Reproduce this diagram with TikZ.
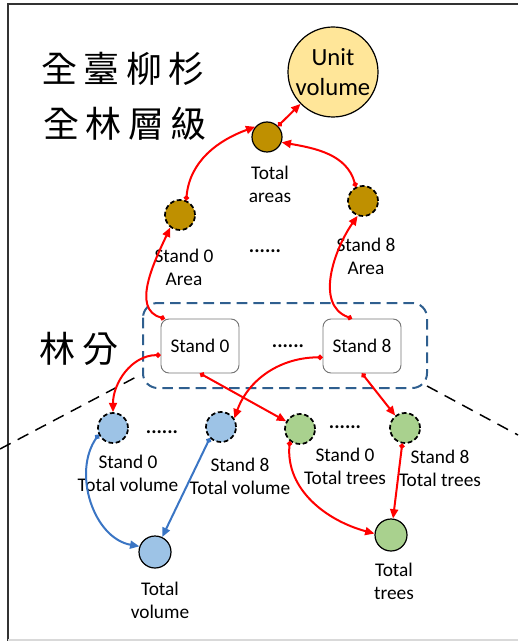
\documentclass[tikz,border=0pt]{standalone}
\usepackage{fontspec}
\setmainfont{Carlito}
\newfontfamily\cjk{Noto Sans CJK TC}
\usetikzlibrary{arrows.meta}
\definecolor{gold}{HTML}{BF9000}
\definecolor{paleyellow}{HTML}{FFE699}
\definecolor{lblue}{HTML}{9DC3E6}
\definecolor{lgreen}{HTML}{A9D18E}
\definecolor{frameblue}{HTML}{2F5F8F}
\definecolor{arrowblue}{HTML}{3A75C4}
\newcommand{\cs}{\hspace{5pt}}
\tikzset{
  lbl/.style={align=center,font=\fontsize{14.5pt}{17.3pt}\selectfont,inner sep=0pt},
  dots/.style={font=\fontsize{15pt}{17pt}\selectfont\bfseries,inner sep=0pt},
  solidc/.style={circle,draw=black,line width=0.9pt,minimum size=22.5pt,inner sep=0pt},
  dashc/.style={circle,draw=black,line width=1.3pt,dash pattern=on 3.5pt off 2pt,minimum size=22.5pt,inner sep=0pt},
  standbox/.style={draw=black!55,line width=0.7pt,rounded corners=6pt,minimum width=58.5pt,minimum height=40.5pt,font=\fontsize{14.5pt}{17pt}\selectfont},
  rlink/.style={draw=red,line width=1.5pt,arrows={Circle[length=3.8pt]-Triangle[length=7pt,width=6pt]}},
  blink/.style={draw=arrowblue,line width=1.5pt,arrows={Circle[length=3.8pt]-Triangle[length=7pt,width=6pt]}},
  cjktext/.style={font=\cjk\fontsize{27pt}{30pt}\selectfont,inner sep=0pt},
  sepline/.style={draw=black,line width=1.1pt,dash pattern=on 9pt off 6pt}
}
\begin{document}
\begin{tikzpicture}[x=0.75pt,y=-0.75pt]
\useasboundingbox (0,0) rectangle (518,641);
% frame
\draw[black!80,line width=1.5pt] (518,4) -- (8,4) -- (8,641);
\draw[black!15,line width=1.5pt] (8,639.5) -- (518,639.5);
% headings
\node[cjktext] (h1) at (123,69) {全\cs 臺\cs 柳\cs 杉};
\node[cjktext] (h2) at (125,124) {全\cs 林\cs 層\cs 級};
\node[cjktext] (h3) at (79,349) {林\cs 分};
% separators
\coordinate (l0) at (0,449);
\coordinate (l1) at (138,376);
\coordinate (r0) at (427,386);
\coordinate (r1) at (518,435);
\draw[sepline] (l0) -- (l1);
\draw[sepline] (r0) -- (r1);
% stand-level frame
\draw[frameblue,line width=1.5pt,dash pattern=on 8pt off 4.5pt,rounded corners=11pt] (143,303) rectangle (427,388);
% top nodes
\node[circle,draw=black,line width=0.9pt,fill=paleyellow,minimum size=67.5pt,inner sep=0pt,align=center,font=\fontsize{18.5pt}{23pt}\selectfont] (uv) at (333,72) {Unit\\volume};
\node[solidc,fill=gold] (ta) at (267,137) {};
\node[lbl] (tal) at (270,184) {Total\\areas};
\node[dashc,fill=gold] (s0a) at (180,215) {};
\node[dashc,fill=gold] (s8a) at (363,201) {};
\node[lbl] (s0al) at (184,267) {Stand 0\\Area};
\node[lbl] (s8al) at (366,256) {Stand 8\\Area};
\node[dots] (d1) at (265,251) {......};
% stand boxes
\node[standbox] (b0) at (200,346) {Stand 0};
\node[standbox] (b8) at (362,346) {Stand 8};
\node[dots] (d2) at (288,346) {......};
% lower row
\node[dashc,fill=lblue] (s0tv) at (113,428) {};
\node[dashc,fill=lblue] (s8tv) at (221,427) {};
\node[dashc,fill=lgreen] (s0tt) at (300,429) {};
\node[dashc,fill=lgreen] (s8tt) at (405,428) {};
\node[dots] (d3) at (162,432) {......};
\node[dots] (d4) at (345,427) {......};
\node[lbl] (s0tvl) at (128,473) {Stand 0\\Total volume};
\node[lbl] (s8tvl) at (240,476) {Stand 8\\Total volume};
\node[lbl] (s0ttl) at (345,466) {Stand 0\\Total trees};
\node[lbl] (s8ttl) at (440,468) {Stand 8\\Total trees};
\node[solidc,fill=lblue,minimum size=24pt] (tv) at (155,552) {};
\node[solidc,fill=lgreen,minimum size=24pt] (tt) at (391,535) {};
\node[lbl] (tvl) at (160,600) {Total\\volume};
\node[lbl] (ttl) at (394,581) {Total\\trees};
% connectors
\draw[rlink] (ta.45) -- (uv);
\draw[rlink] (s0a.67) to[out=85,in=200] (ta.139);
\draw[rlink] (s8a.117) to[out=105,in=-10] (ta.-20);
\draw[rlink] (b0.142) to[out=165,in=245] (s0a.232);
\draw[rlink] (b8.110) to[out=160,in=235] (s8a.250);
\draw[rlink] (b0.193) to[out=180,in=90] (s0tv.north);
\draw[rlink] (b8.196) to[out=180,in=70] (s8tv.33);
\draw[rlink] (b0.south) -- (s0tt);
\draw[rlink] (b8.south) -- (s8tt);
\draw[rlink] (s0tt.230) to[out=265,in=165] (tt.175);
\draw[rlink] (s8tt.260) -- (tt);
\draw[blink] (s0tv.205) to[out=235,in=170] (tv.160);
\draw[blink] (s8tv.225) -- (tv);
\end{tikzpicture}
\end{document}
